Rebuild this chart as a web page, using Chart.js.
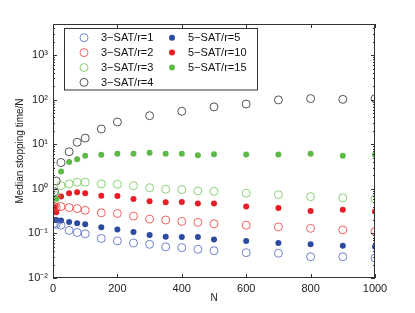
<!DOCTYPE html>
<html>
<head>
<meta charset="utf-8">
<script src="https://cdn.jsdelivr.net/npm/chart.js@4.4.1/dist/chart.umd.min.js"></script>
<style>
  html, body { margin: 0; padding: 0; background: #fff; }
  #wrap { width: 415px; height: 313px; }
</style>
</head>
<body>
<div id="wrap"><canvas id="stop"></canvas></div>
<script>
const nAll = [5, 10, 25, 50, 75, 100, 150, 200, 250, 300, 350, 400, 450, 500, 600, 700, 800, 900, 1000];
const nR4 = [5, 10, 25, 50, 75, 100, 150, 200, 300, 400, 500, 600, 700, 800, 900, 1000];

const sat3r1 = [0.17, 0.16, 0.154, 0.117, 0.105, 0.098, 0.077, 0.068, 0.061, 0.057, 0.05, 0.048, 0.044, 0.041, 0.037, 0.036, 0.03, 0.03, 0.028];
const sat3r2 = [0.4, 0.38, 0.4, 0.38, 0.36, 0.33, 0.29, 0.28, 0.245, 0.21, 0.2, 0.186, 0.177, 0.165, 0.153, 0.14, 0.13, 0.12, 0.11];
const sat3r3 = [0.55, 0.7, 1.18, 1.29, 1.41, 1.41, 1.29, 1.27, 1.18, 1.06, 0.98, 0.96, 0.9, 0.88, 0.8, 0.74, 0.67, 0.63, 0.6];
const sat3r4 = [0.86, 1.5, 3.9, 6.8, 11.1, 13.8, 22, 31.6, 43.8, 55, 69, 80, 99, 106, 102, 106];
const sat5r5 = [0.2, 0.2, 0.196, 0.18, 0.17, 0.16, 0.137, 0.123, 0.107, 0.092, 0.084, 0.083, 0.083, 0.073, 0.068, 0.061, 0.057, 0.053, 0.05];
const sat5r10 = [0.39, 0.3, 0.67, 0.8, 0.84, 0.8, 0.7, 0.69, 0.59, 0.53, 0.5, 0.51, 0.47, 0.47, 0.4, 0.37, 0.32, 0.34, 0.31];
const sat5r15 = [0.2, 0.6, 2.44, 4.0, 4.6, 5.5, 5.8, 6.1, 6.1, 6.5, 6.1, 6.1, 5.7, 6.0, 5.9, 5.9, 6.1, 5.5, 5.8];

const xTicks = [0, 200, 400, 600, 800, 1000];
const yTicks = [0.01, 0.1, 1, 10, 100, 1000];
const yTickLabels = ["10\u207B\u00B2", "10\u207B\u00B9", "10\u2070", "10\u00B9", "10\u00B2", "10\u00B3"];

const pts = (xs, ys) => ys.map((y, i) => ({ x: xs[i], y: y }));
const FONT = "'Liberation Sans', Arial, sans-serif";

function open(label, xs, ys, color) {
  return {
    label: label, data: pts(xs, ys), showLine: false,
    pointStyle: "circle", pointRadius: 4, pointBorderWidth: 0.8,
    borderColor: color, backgroundColor: "rgba(0,0,0,0)",
    pointBackgroundColor: "rgba(0,0,0,0)", pointBorderColor: color, filled: false
  };
}
function solid(label, xs, ys, color) {
  return {
    label: label, data: pts(xs, ys), showLine: false,
    pointStyle: "circle", pointRadius: 3, pointBorderWidth: 0,
    borderColor: color, backgroundColor: color,
    pointBackgroundColor: color, pointBorderColor: color, filled: true
  };
}

const datasets = [
  open("3\u2212SAT/r=1", nAll, sat3r1, "#4d63c0"),
  open("3\u2212SAT/r=2", nAll, sat3r2, "#ee3a3a"),
  open("3\u2212SAT/r=3", nAll, sat3r3, "#70c455"),
  open("3\u2212SAT/r=4", nR4, sat3r4, "#2a2a2a"),
  solid("5\u2212SAT/r=5", nAll, sat5r5, "#2b4ba3"),
  solid("5\u2212SAT/r=10", nAll, sat5r10, "#ec1c24"),
  solid("5\u2212SAT/r=15", nAll, sat5r15, "#5cba46")
];

// matlab-like box with inward ticks and a framed legend
const boxPlugin = {
  id: "box",
  afterDraw(chart) {
    const ctx = chart.ctx;
    const a = chart.chartArea;
    const xs = chart.scales.x, ys = chart.scales.y;
    ctx.save();
    ctx.strokeStyle = "#333";
    ctx.lineWidth = 1;
    ctx.strokeRect(a.left + 0.5, a.top + 0.5, a.right - a.left - 1, a.bottom - a.top - 1);
    ctx.beginPath();
    xTicks.forEach(v => {
      const px = Math.round(xs.getPixelForValue(v)) + 0.5;
      ctx.moveTo(px, a.bottom); ctx.lineTo(px, a.bottom - 4);
      ctx.moveTo(px, a.top); ctx.lineTo(px, a.top + 4);
    });
    for (let e = -2; e <= 3; e++) {
      for (let m = 1; m <= 9; m++) {
        const v = m * Math.pow(10, e);
        if (v > 5000) break;
        const py = Math.round(ys.getPixelForValue(v)) + 0.5;
        const len = m === 1 ? 4 : 2;
        ctx.moveTo(a.left, py); ctx.lineTo(a.left + len, py);
        ctx.moveTo(a.right, py); ctx.lineTo(a.right - len, py);
      }
    }
    ctx.stroke();

    // legend
    const lx = 64.5, ly = 28.5, lw = 193, lh = 61.5;
    ctx.fillStyle = "#fff";
    ctx.fillRect(lx, ly, lw, lh);
    ctx.strokeStyle = "#333";
    ctx.strokeRect(lx, ly, lw, lh);
    const colX = [84, 172], textX = [101, 188];
    const rowY = [37.7, 52.6, 67.5, 82.4];
    ctx.font = "11px " + FONT;
    ctx.textBaseline = "middle";
    chart.data.datasets.forEach((d, i) => {
      const col = i < 4 ? 0 : 1, row = i < 4 ? i : i - 4;
      const cx = colX[col], cy = rowY[row];
      ctx.beginPath();
      ctx.arc(cx, cy, d.pointRadius, 0, Math.PI * 2);
      if (d.filled) { ctx.fillStyle = d.pointBackgroundColor; ctx.fill(); }
      else { ctx.lineWidth = d.pointBorderWidth; ctx.strokeStyle = d.pointBorderColor; ctx.stroke(); }
      ctx.fillStyle = "#111";
      ctx.fillText(d.label, textX[col], cy + 0.5);
    });
    ctx.restore();
  }
};

new Chart("stop", {
  type: "scatter",
  data: { datasets: datasets },
  options: {
    responsive: true,
    maintainAspectRatio: false,
    animation: false,
    layout: { padding: { top: 24, right: 40, left: 0, bottom: 0 } },
    plugins: { legend: { display: false }, tooltip: { enabled: false } },
    scales: {
      x: {
        type: "linear", min: 0, max: 1000,
        grid: { display: false, drawTicks: false },
        border: { display: false },
        afterBuildTicks(s) { s.ticks = xTicks.map(v => ({ value: v })); },
        ticks: { padding: 4, color: "#222", font: { family: FONT, size: 11 }, callback: v => String(v) },
        title: { display: true, text: "N", color: "#222", font: { family: FONT, size: 10 }, padding: { top: 0, bottom: 9 } },
        afterFit(s) { s.height = 35; }
      },
      y: {
        type: "logarithmic", min: 0.01, max: 5000,
        grid: { display: false, drawTicks: false },
        border: { display: false },
        afterBuildTicks(s) { s.ticks = yTicks.map(v => ({ value: v, major: true })); },
        ticks: {
          padding: 5, color: "#222", font: { family: FONT, size: 11 },
          callback(v) { const k = yTicks.indexOf(v); return k >= 0 ? yTickLabels[k] : ""; }
        },
        title: { display: true, text: "Median stopping time/N", color: "#222", font: { family: FONT, size: 10 }, padding: { top: 14, bottom: 0 } },
        afterFit(s) { s.width = 53; }
      }
    }
  },
  plugins: [boxPlugin]
});
</script>
</body>
</html>
